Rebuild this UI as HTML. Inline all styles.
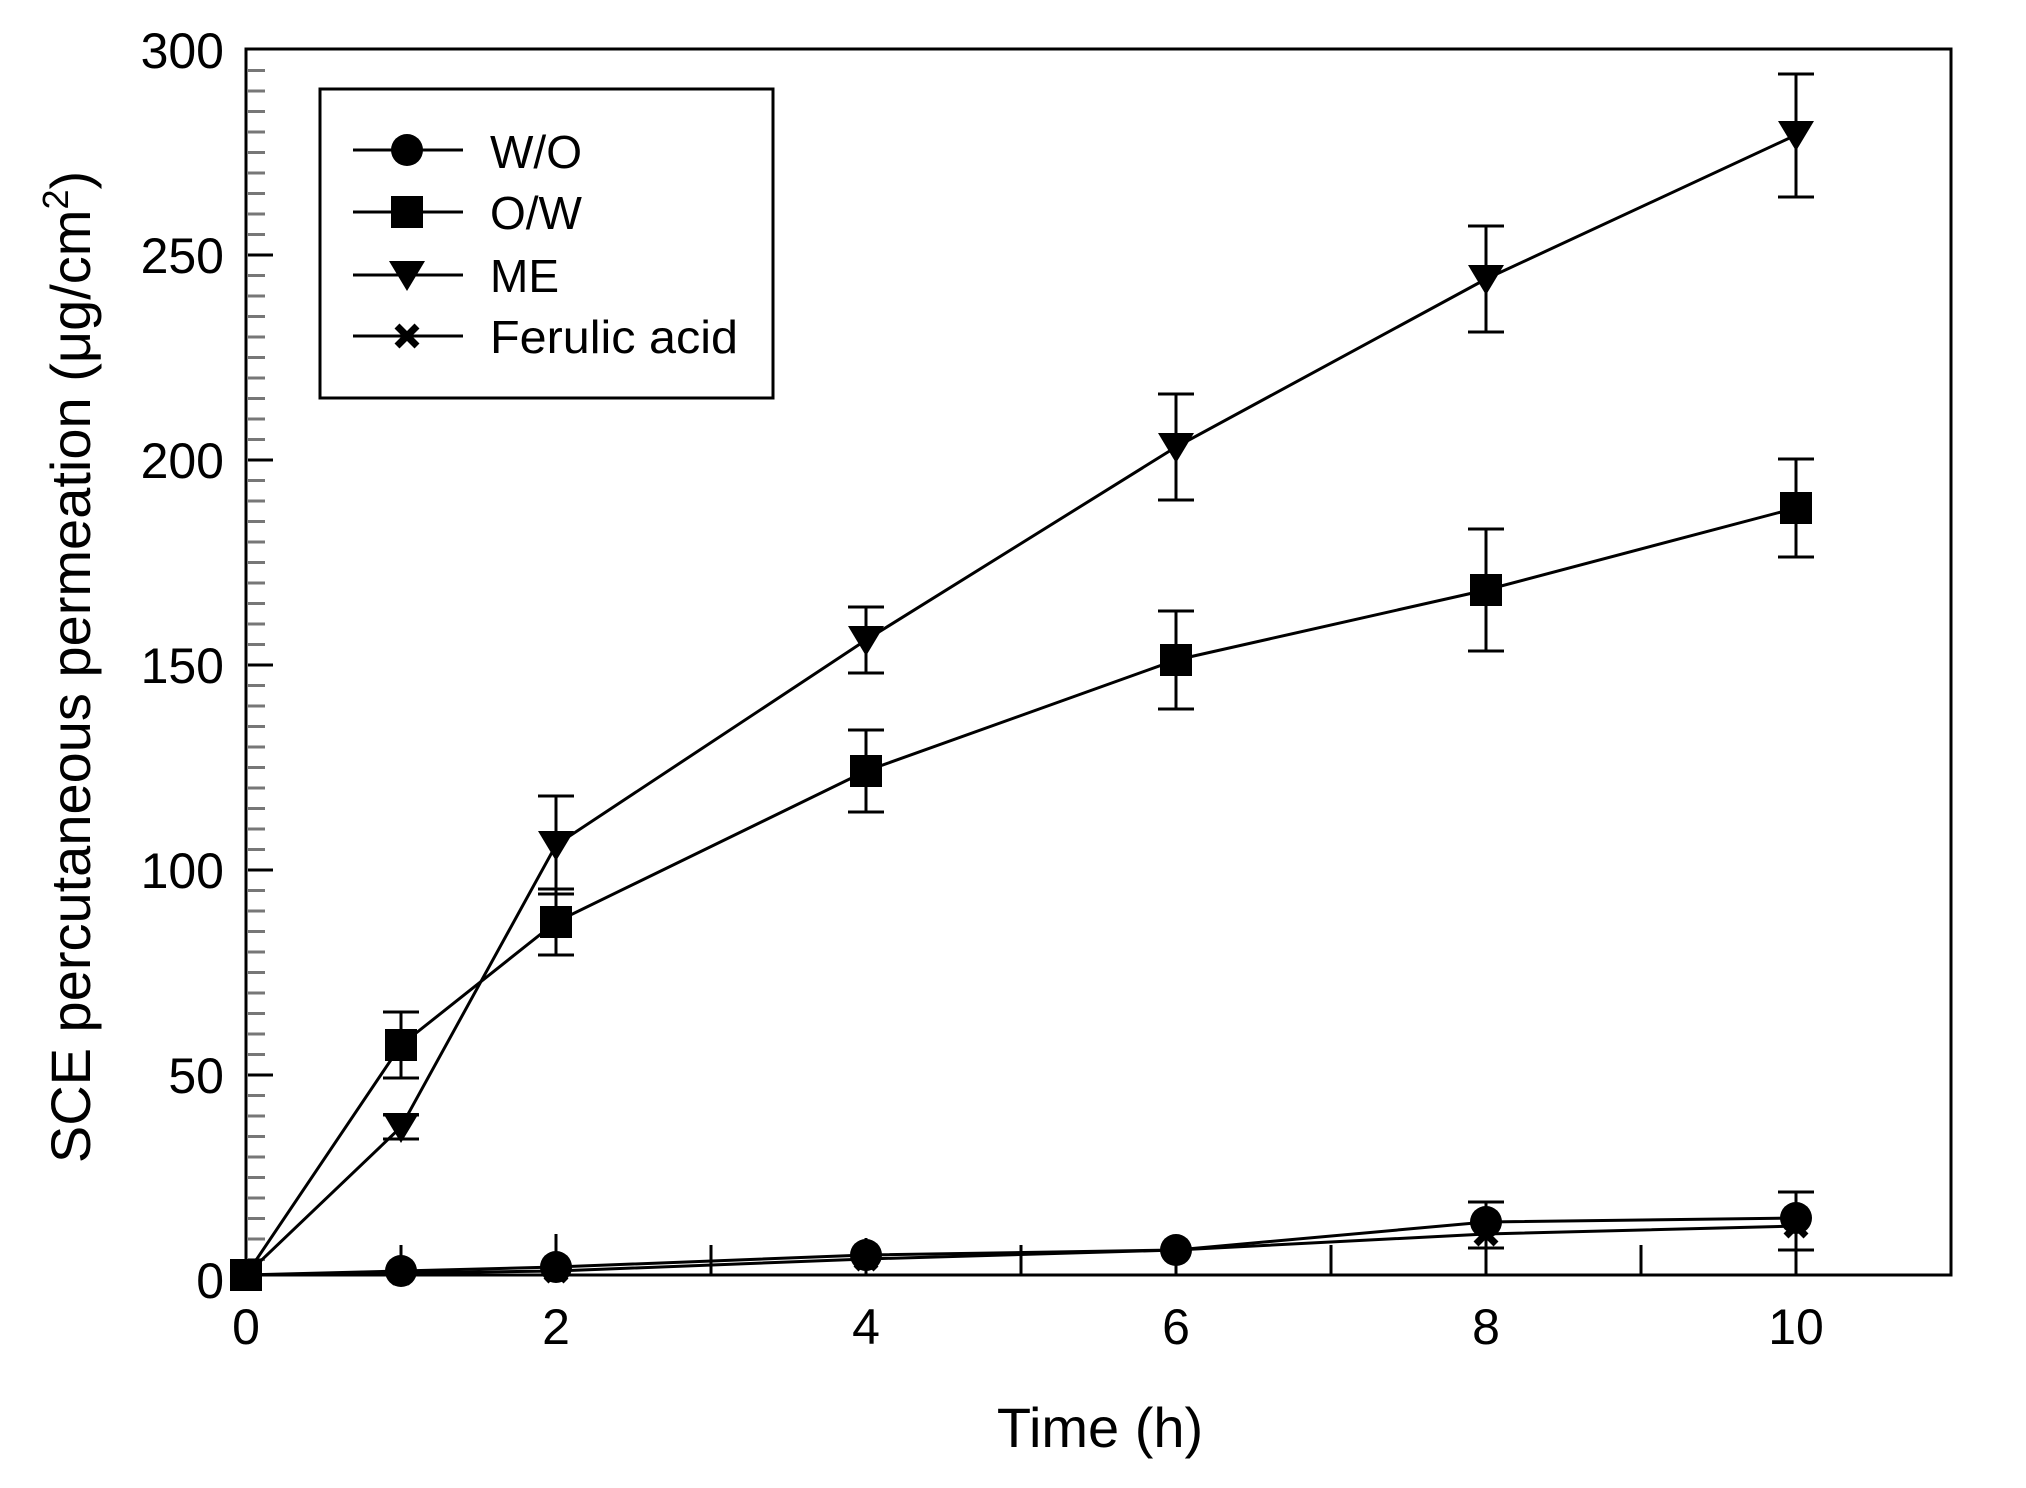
<!DOCTYPE html>
<html><head><meta charset="utf-8"><style>
html,body{margin:0;padding:0;background:#fff;}
svg{display:block;}
text{font-family:"Liberation Sans",Arial,sans-serif;fill:#000;}
</style></head><body>
<svg width="2026" height="1488" viewBox="0 0 2026 1488" xmlns="http://www.w3.org/2000/svg">
<defs>
<g id="circ"><circle r="16" fill="#000"/></g>
<g id="sq"><rect x="-16" y="-16" width="32" height="32" fill="#000"/></g>
<g id="tri"><path d="M-18,-14 L18,-14 L0,16 Z" fill="#000"/></g>
<g id="x"><path d="M-10,-10 L10,10 M-10,10 L10,-10" stroke="#000" stroke-width="7"/></g>
</defs>
<g stroke="#777" stroke-width="3">
<path d="M248,70.5h17M248,91h17M248,111.5h17M248,132h17M248,152.5h17M248,173h17M248,193.5h17M248,214h17M248,234.5h17M248,275.5h17M248,296h17M248,316.5h17M248,337h17M248,357.5h17M248,378h17M248,398.5h17M248,419h17M248,439.5h17M248,480.5h17M248,501h17M248,521.5h17M248,542h17M248,562.5h17M248,583h17M248,603.5h17M248,624h17M248,644.5h17M248,685.5h17M248,706h17M248,726.5h17M248,747h17M248,767.5h17M248,788h17M248,808.5h17M248,829h17M248,849.5h17M248,890.5h17M248,911h17M248,931.5h17M248,952h17M248,972.5h17M248,993h17M248,1013.5h17M248,1034h17M248,1054.5h17M248,1095.5h17M248,1116h17M248,1136.5h17M248,1157h17M248,1177.5h17M248,1198h17M248,1218.5h17M248,1239h17M248,1259.5h17"/>
</g>
<g stroke="#000" stroke-width="3">
<path d="M248,255h25M248,460h25M248,665h25M248,870h25M248,1075h25"/>
<path d="M401,1275v-30M556,1275v-30M711,1275v-30M866,1275v-30M1021,1275v-30M1176,1275v-30M1331,1275v-30M1486,1275v-30M1641,1275v-30M1796,1275v-30"/>
</g>
<rect x="246" y="49" width="1705" height="1226" fill="none" stroke="#000" stroke-width="3"/>
<g font-size="50" text-anchor="end">
<text x="224" y="68">300</text>
<text x="224" y="273">250</text>
<text x="224" y="478">200</text>
<text x="224" y="683">150</text>
<text x="224" y="888">100</text>
<text x="224" y="1093">50</text>
<text x="224" y="1298">0</text>
</g>
<g font-size="50" text-anchor="middle">
<text x="246" y="1344">0</text>
<text x="556" y="1344">2</text>
<text x="866" y="1344">4</text>
<text x="1176" y="1344">6</text>
<text x="1486" y="1344">8</text>
<text x="1796" y="1344">10</text>
</g>
<text x="1100" y="1447" font-size="56" text-anchor="middle">Time (h)</text>
<text transform="translate(90,667) rotate(-90)" font-size="56" text-anchor="middle">SCE percutaneous permeation (μg/cm<tspan dy="-22" font-size="36">2</tspan><tspan dy="22">)</tspan></text>

<g fill="none" stroke="#000" stroke-width="3">
<polyline points="246,1275 401,1127 556,845 866,640 1176,447 1486,279 1796,135"/>
<polyline points="246,1275 401,1045 556,922 866,771 1176,660 1486,590 1796,508"/>
<polyline points="246,1275 401,1271 556,1267 866,1255 1176,1250 1486,1222 1796,1218"/>
<polyline points="246,1275 401,1273 556,1271 866,1259 1176,1250 1486,1234 1796,1226"/>
</g>
<g stroke="#000" stroke-width="3">
<path d="M401,1115v24M383,1115h36M383,1139h36"/>
<path d="M556,796v98M538,796h36M538,894h36"/>
<path d="M866,607v66M848,607h36M848,673h36"/>
<path d="M1176,394v106M1158,394h36M1158,500h36"/>
<path d="M1486,226v106M1468,226h36M1468,332h36"/>
<path d="M1796,74v123M1778,74h36M1778,197h36"/>
<path d="M401,1012v66M383,1012h36M383,1078h36"/>
<path d="M556,889v66M538,889h36M538,955h36"/>
<path d="M866,730v82M848,730h36M848,812h36"/>
<path d="M1176,611v98M1158,611h36M1158,709h36"/>
<path d="M1486,529v122M1468,529h36M1468,651h36"/>
<path d="M1796,459v98M1778,459h36M1778,557h36"/>
<path d="M401,1250v25M556,1234v41M866,1238v34M1176,1235v30"/>
<path d="M1486,1202v46M1468,1202h36M1468,1248h36"/>
<path d="M1796,1192v58M1778,1192h36M1778,1250h36"/>
</g>
<g>
<use href="#tri" x="401" y="1127"/><use href="#tri" x="556" y="845"/><use href="#tri" x="866" y="640"/><use href="#tri" x="1176" y="447"/><use href="#tri" x="1486" y="279"/><use href="#tri" x="1796" y="135"/>
<use href="#sq" x="401" y="1045"/><use href="#sq" x="556" y="922"/><use href="#sq" x="866" y="771"/><use href="#sq" x="1176" y="660"/><use href="#sq" x="1486" y="590"/><use href="#sq" x="1796" y="508"/>
<use href="#x" x="401" y="1273"/><use href="#x" x="556" y="1271"/><use href="#x" x="866" y="1259"/><use href="#x" x="1176" y="1250"/><use href="#x" x="1486" y="1234"/><use href="#x" x="1796" y="1226"/>
<use href="#circ" x="401" y="1271"/><use href="#circ" x="556" y="1267"/><use href="#circ" x="866" y="1255"/><use href="#circ" x="1176" y="1250"/><use href="#circ" x="1486" y="1222"/><use href="#circ" x="1796" y="1218"/>
<use href="#sq" x="246" y="1275"/><use href="#circ" x="246" y="1275"/>
</g>
<rect x="320" y="89" width="453" height="309" fill="#fff" stroke="#000" stroke-width="3"/>
<g stroke="#000" stroke-width="3">
<path d="M353,150h110M353,212h110M353,275h110M353,336h110"/>
</g>
<use href="#circ" x="407" y="150"/>
<use href="#sq" x="407" y="212"/>
<use href="#tri" x="407" y="275"/>
<use href="#x" x="407" y="336"/>
<g font-size="46">
<text x="490" y="168">W/O</text>
<text x="490" y="229">O/W</text>
<text x="490" y="292">ME</text>
<text x="490" y="353" textLength="248" lengthAdjust="spacingAndGlyphs">Ferulic acid</text>
</g>
</svg>
</body></html>
